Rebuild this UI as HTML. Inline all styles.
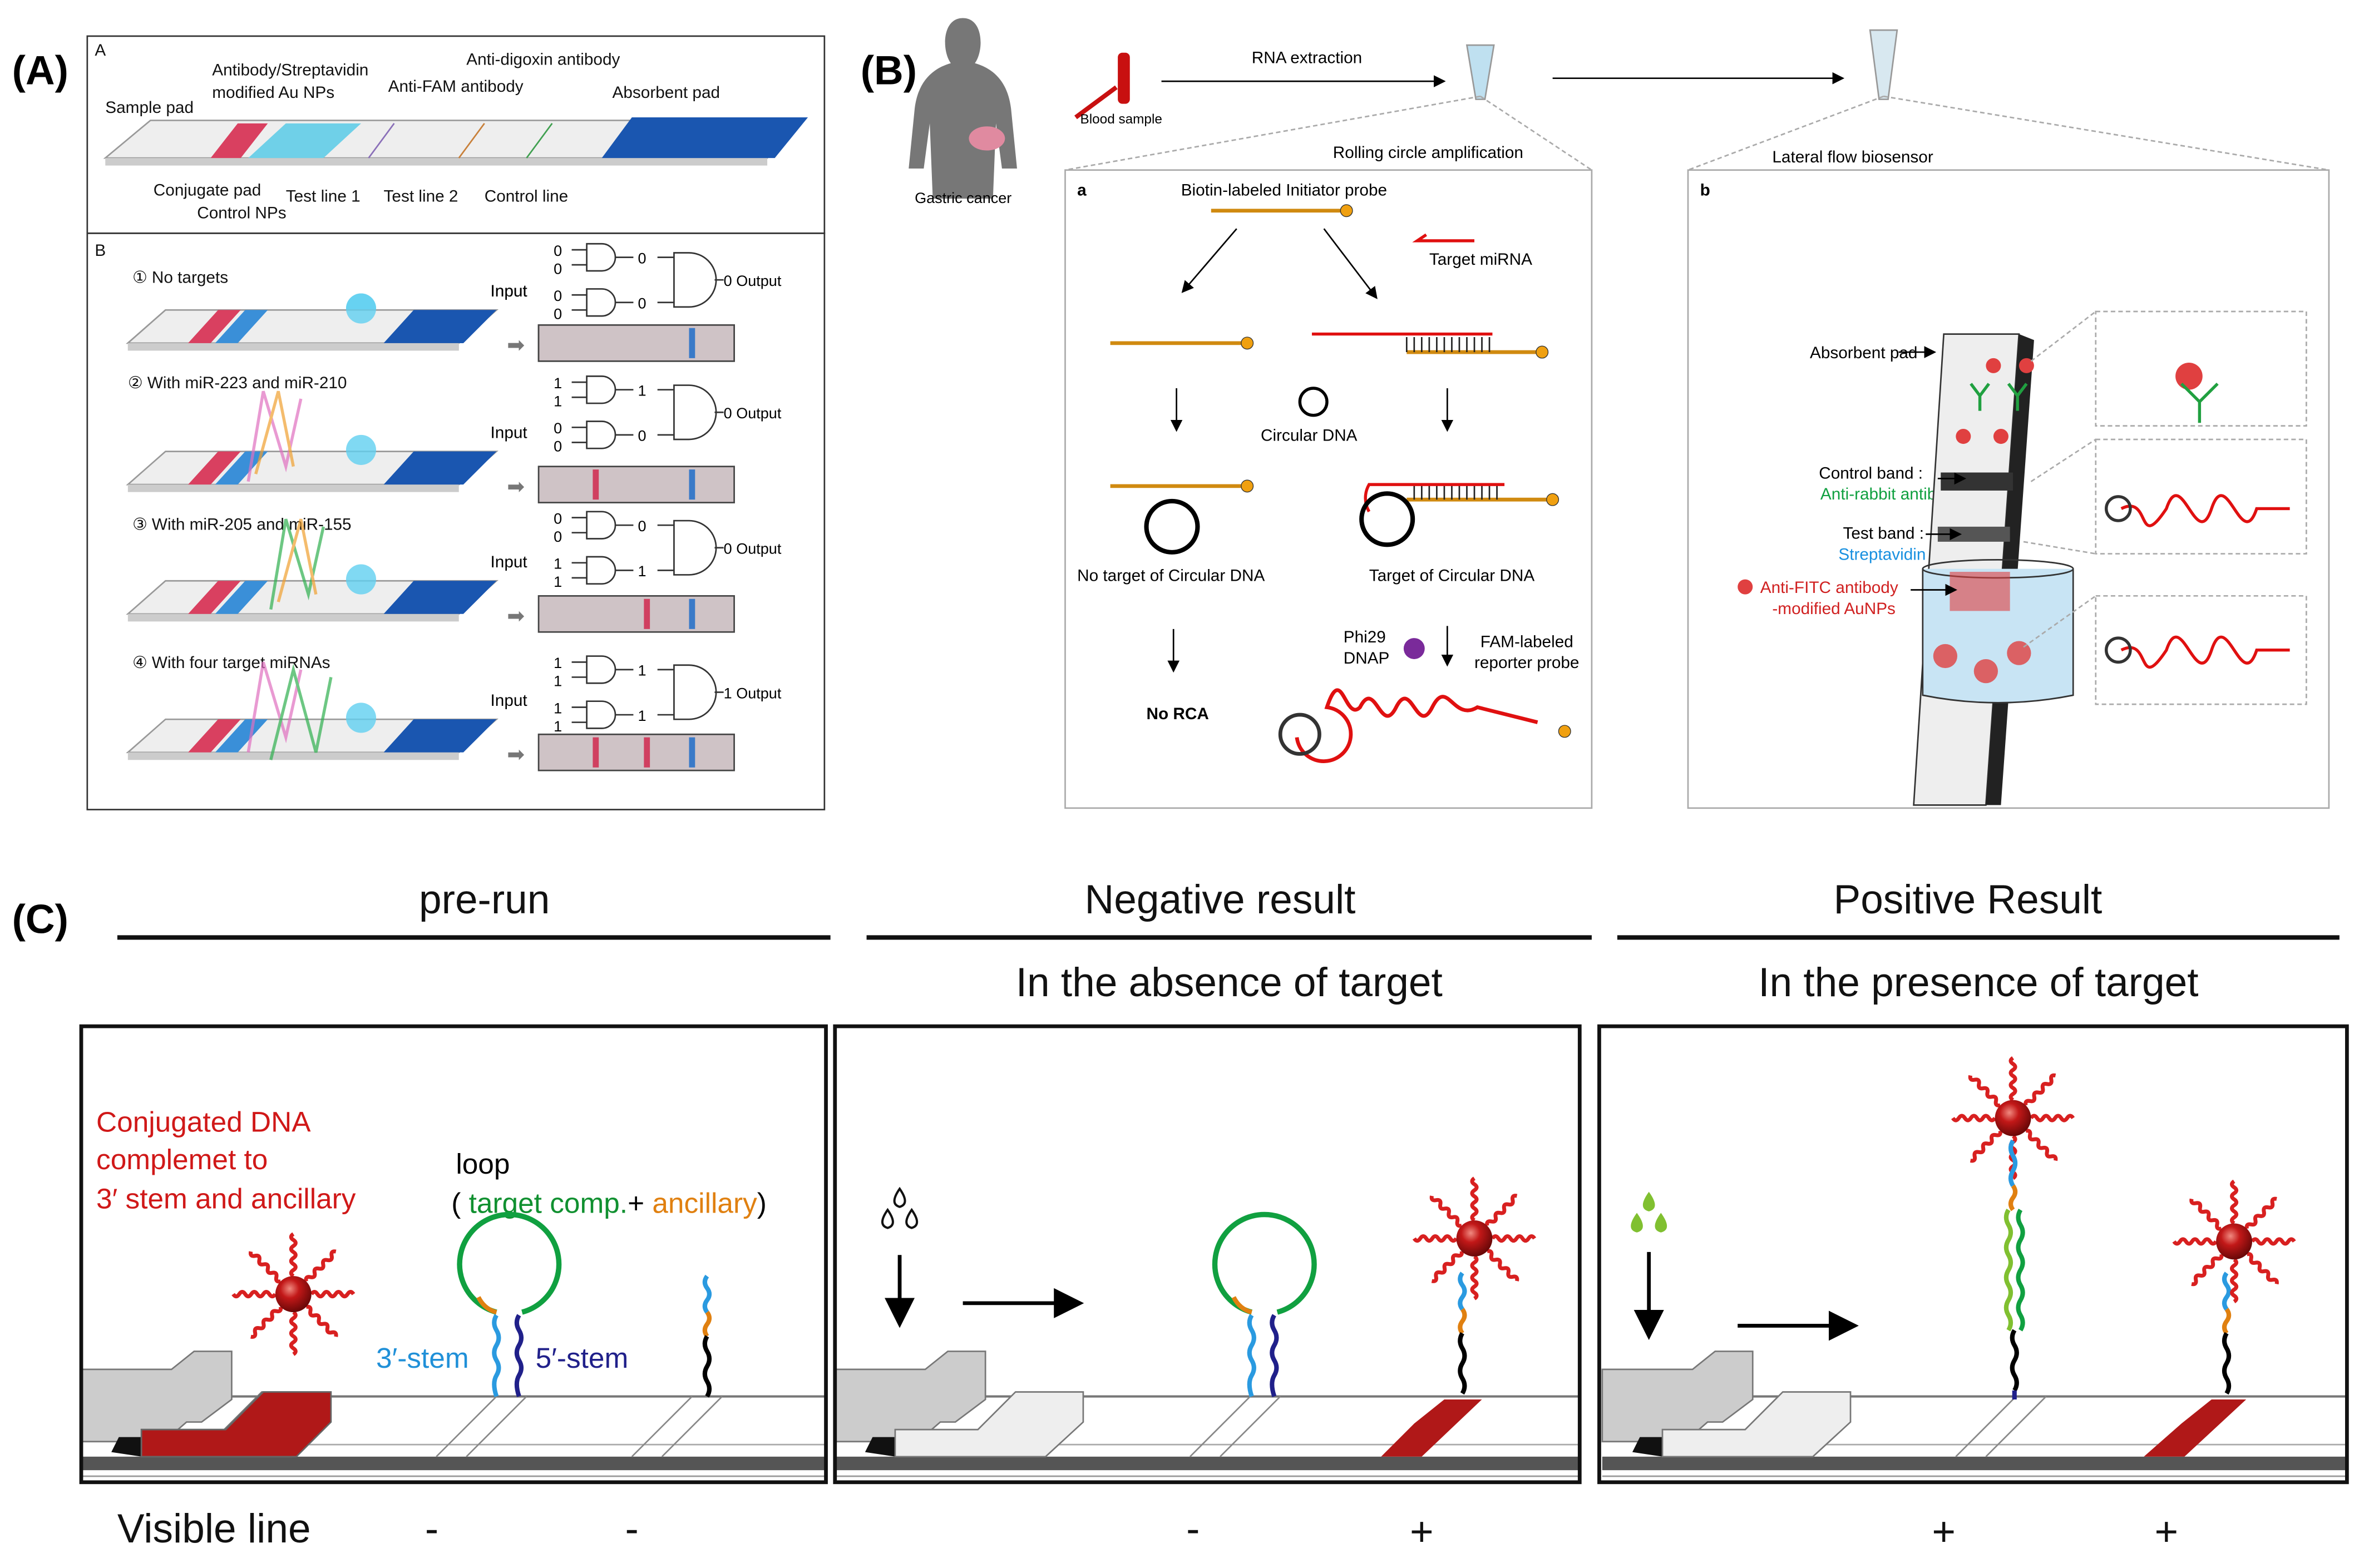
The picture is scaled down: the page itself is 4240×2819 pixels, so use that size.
<!DOCTYPE html>
<html><head><meta charset="utf-8"><style>
html,body{margin:0;padding:0;background:#fff}
svg{display:block}
text{font-family:"Liberation Sans",sans-serif}
</style></head><body>
<svg width="4240" height="2819" viewBox="0 0 1568 1042" preserveAspectRatio="none" xmlns="http://www.w3.org/2000/svg">
<defs>
<radialGradient id="au" cx="0.4" cy="0.35" r="0.65"><stop offset="0" stop-color="#f08a80"/><stop offset="0.4" stop-color="#c21818"/><stop offset="1" stop-color="#6a0808"/></radialGradient>
<marker id="ar" markerWidth="8" markerHeight="8" refX="7" refY="4" orient="auto"><path d="M0,0 L8,4 L0,8 z" fill="#000"/></marker>
<path id="wig" d="M0,0 q2,-3 4,0 t4,0 t4,0 t4,0 t4,0 t4,0 t4,0" fill="none" stroke-width="2.6"/>
<g id="np">
 <g stroke="#d82020">
  <use href="#wig" transform="rotate(0) translate(12,0)"/>
  <use href="#wig" transform="rotate(45) translate(12,0)"/>
  <use href="#wig" transform="rotate(90) translate(12,0)"/>
  <use href="#wig" transform="rotate(135) translate(12,0)"/>
  <use href="#wig" transform="rotate(180) translate(12,0)"/>
  <use href="#wig" transform="rotate(225) translate(12,0)"/>
  <use href="#wig" transform="rotate(270) translate(12,0)"/>
  <use href="#wig" transform="rotate(315) translate(12,0)"/>
 </g>
 <circle r="12" fill="url(#au)"/>
</g>
<g id="stripC">
 <rect x="0" y="928" width="495" height="40" fill="#fff"/>
 <line x1="100" y1="928" x2="495" y2="928" stroke="#777" stroke-width="1.5"/>
 <line x1="60" y1="960" x2="495" y2="960" stroke="#aaa" stroke-width="1"/>
 <rect x="0" y="968" width="495" height="9" fill="#555"/>
 <line x1="0" y1="981" x2="495" y2="981" stroke="#999"/>
 <polygon points="0,910 60,910 75,898 100,898 100,930 80,945 70,945 55,958 0,958" fill="#ccc" stroke="#777"/>
 <polygon points="20,965 25,955 40,955 40,968" fill="#111"/>
 <polygon points="40,968 40,950 95,950 120,925 165,925 165,945 140,968" fill="#eee" stroke="#777"/>
</g>
</defs>
<rect width="1568" height="1042" fill="#fff"/>

<text x="8" y="56" font-size="27" font-weight="bold">(A)</text>
<text x="572" y="56" font-size="27" font-weight="bold">(B)</text>
<text x="8" y="620" font-size="27" font-weight="bold">(C)</text>

<!-- Panel A -->
<rect x="58" y="24" width="490" height="131" fill="none" stroke="#333" stroke-width="1"/>
<rect x="58" y="155" width="490" height="383" fill="none" stroke="#333" stroke-width="1"/>
<g font-size="11" fill="#111">
<text x="63" y="37">A</text>
<text x="141" y="50">Antibody/Streptavidin</text>
<text x="141" y="65">modified Au NPs</text>
<text x="310" y="43">Anti-digoxin antibody</text>
<text x="258" y="61">Anti-FAM antibody</text>
<text x="407" y="65">Absorbent pad</text>
<text x="70" y="75">Sample pad</text>
<text x="102" y="130">Conjugate pad</text>
<text x="131" y="145">Control NPs</text>
<text x="190" y="134">Test line 1</text>
<text x="255" y="134">Test line 2</text>
<text x="322" y="134">Control line</text>
</g>
<polygon points="70,105 100,80 530,80 510,105" fill="#eee" stroke="#999"/>
<polygon points="70,105 510,105 510,110 70,110" fill="#ccc"/>
<polygon points="140,105 158,82 178,82 160,105" fill="#d94060"/>
<polygon points="165,105 190,82 240,82 215,105" fill="#6fd0e8"/>
<polygon points="400,105 420,78 537,78 515,105" fill="#1a56b0"/>
<line x1="245" y1="105" x2="262" y2="82" stroke="#8a6fb8"/>
<line x1="305" y1="105" x2="322" y2="82" stroke="#c8803a"/>
<line x1="350" y1="105" x2="367" y2="82" stroke="#40a050"/>

<g font-size="11" fill="#111">
<text x="63" y="170">B</text>
<text x="88" y="188">① No targets</text>
<text x="85" y="258">② With miR-223 and miR-210</text>
<text x="88" y="352">③ With miR-205 and miR-155</text>
<text x="88" y="444">④ With four target miRNAs</text>
</g>
<g id="rowA">
 <polygon points="85,228 110,206 330,206 305,228" fill="#eee" stroke="#999"/>
 <polygon points="85,228 305,228 305,233 85,233" fill="#ccc"/>
 <polygon points="125,228 145,206 160,206 140,228" fill="#d94060"/>
 <polygon points="143,228 163,206 178,206 158,228" fill="#3a8fd8"/>
 <polygon points="255,228 275,206 330,206 308,228" fill="#1a56b0"/>
 <circle cx="240" cy="205" r="10" fill="#60d0f0" opacity="0.8"/>
 <rect x="358" y="216" width="130" height="24" fill="#cfc3c6" stroke="#444"/>
 <text x="337" y="234" font-size="14" fill="#777">➡</text>
 <text x="326" y="197" font-size="11">Input</text>
</g>
<use href="#rowA" transform="translate(0,0)"/>
<use href="#rowA" transform="translate(0,94)"/>
<use href="#rowA" transform="translate(0,180)"/>
<use href="#rowA" transform="translate(0,272)"/>
<rect x="458" y="218" width="4" height="20" fill="#3a7ac8"/>
<rect x="458" y="312" width="4" height="20" fill="#3a7ac8"/><rect x="394" y="312" width="4" height="20" fill="#d04060"/>
<rect x="458" y="398" width="4" height="20" fill="#3a7ac8"/><rect x="428" y="398" width="4" height="20" fill="#d04060"/>
<rect x="458" y="490" width="4" height="20" fill="#3a7ac8"/><rect x="394" y="490" width="4" height="20" fill="#d04060"/><rect x="428" y="490" width="4" height="20" fill="#d04060"/>
<g fill="none" stroke-width="2" opacity="0.7">
 <path d="M165,320 l10,-60 l15,50 l10,-45" stroke="#e070c0"/><path d="M170,315 l15,-55 l10,50" stroke="#f0a030"/>
 <path d="M180,405 l10,-60 l15,50 l10,-45" stroke="#30b050"/><path d="M185,400 l15,-55 l10,50" stroke="#f0a030"/>
 <path d="M165,500 l10,-60 l15,50 l10,-45" stroke="#e070c0"/><path d="M180,505 l15,-60 l15,55 l10,-50" stroke="#30b050"/>
</g>
<g id="gates" fill="none" stroke="#333">
 <path d="M390,162 h10 a9,9 0 0 1 0,18 h-10 z M390,192 h10 a9,9 0 0 1 0,18 h-10 z M448,168 h10 a17,17 0 0 1 0,36 h-10 z"/>
 <path d="M380,166 h10 M380,176 h10 M380,196 h10 M380,206 h10 M409,171 h12 M409,201 h12 M437,171 h11 M437,201 h11 M475,186 h6"/>
</g>
<use href="#gates" transform="translate(0,88)"/>
<use href="#gates" transform="translate(0,178)"/>
<use href="#gates" transform="translate(0,274)"/>
<g font-size="10">
<text x="368" y="170">0</text><text x="368" y="182">0</text><text x="368" y="200">0</text><text x="368" y="212">0</text><text x="424" y="175">0</text><text x="424" y="205">0</text><text x="481" y="190">0  Output</text>
<text x="368" y="258">1</text><text x="368" y="270">1</text><text x="368" y="288">0</text><text x="368" y="300">0</text><text x="424" y="263">1</text><text x="424" y="293">0</text><text x="481" y="278">0  Output</text>
<text x="368" y="348">0</text><text x="368" y="360">0</text><text x="368" y="378">1</text><text x="368" y="390">1</text><text x="424" y="353">0</text><text x="424" y="383">1</text><text x="481" y="368">0  Output</text>
<text x="368" y="444">1</text><text x="368" y="456">1</text><text x="368" y="474">1</text><text x="368" y="486">1</text><text x="424" y="449">1</text><text x="424" y="479">1</text><text x="481" y="464">1  Output</text>
</g>

<!-- Panel B -->
<path d="M640,12 c-14,0 -14,22 -8,30 c-14,4 -22,14 -24,30 l-4,40 l10,0 l4,-30 l2,50 l40,0 l2,-50 l4,30 l10,0 l-4,-40 c-2,-16 -10,-26 -24,-30 c6,-8 6,-30 -8,-30 z" fill="#777"/>
<ellipse cx="656" cy="92" rx="12" ry="8" fill="#e08aa0"/>
<text x="608" y="135" font-size="10">Gastric cancer</text>
<rect x="743" y="35" width="8" height="34" rx="3" fill="#c81010"/>
<line x1="715" y1="78" x2="742" y2="58" stroke="#c81010" stroke-width="3"/>
<text x="718" y="82" font-size="9">Blood sample</text>
<line x1="772" y1="54" x2="960" y2="54" stroke="#000" marker-end="url(#ar)"/>
<text x="832" y="42" font-size="11">RNA extraction</text>
<path d="M975,30 h18 l-6,36 h-6 z" fill="#bfe0f0" stroke="#999"/>
<line x1="1032" y1="52" x2="1225" y2="52" stroke="#000" marker-end="url(#ar)"/>
<path d="M1243,20 h18 l-6,46 h-6 z" fill="#d8e8f0" stroke="#999"/>
<text x="886" y="105" font-size="11">Rolling circle amplification</text>
<text x="1178" y="108" font-size="11">Lateral flow biosensor</text>
<g stroke="#aaa" stroke-dasharray="3,2"><line x1="984" y1="64" x2="708" y2="113"/><line x1="984" y1="64" x2="1058" y2="113"/><line x1="1252" y1="64" x2="1122" y2="113"/><line x1="1252" y1="64" x2="1548" y2="113"/></g>
<rect x="708" y="113" width="350" height="424" fill="none" stroke="#aaa"/>
<rect x="1122" y="113" width="426" height="424" fill="none" stroke="#aaa"/>
<g font-size="11">
<text x="716" y="130" font-weight="bold">a</text>
<text x="785" y="130">Biotin-labeled  Initiator probe</text>
<text x="950" y="176">Target miRNA</text>
<text x="838" y="293">Circular DNA</text>
<text x="716" y="386">No target of Circular DNA</text>
<text x="910" y="386">Target of Circular DNA</text>
<text x="893" y="427">Phi29</text><text x="893" y="441">DNAP</text>
<text x="984" y="430">FAM-labeled</text><text x="980" y="444">reporter probe</text>
<text x="762" y="478" font-weight="bold">No RCA</text>
<text x="1130" y="130" font-weight="bold">b</text>
<text x="1203" y="238">Absorbent pad</text>
<text x="1209" y="318">Control band :</text>
<text x="1210" y="332" fill="#10a040">Anti-rabbit antibody</text>
<text x="1225" y="358">Test band :</text>
<text x="1222" y="372" fill="#1890e0">Streptavidin</text>
<text x="1170" y="394" fill="#d02020">Anti-FITC antibody</text>
<text x="1178" y="408" fill="#d02020">-modified AuNPs</text>
</g>
<g stroke="#d08a10" stroke-width="2.5" fill="none">
<line x1="805" y1="140" x2="892" y2="140"/><line x1="738" y1="228" x2="826" y2="228"/><line x1="738" y1="323" x2="826" y2="323"/>
<line x1="935" y1="234" x2="1022" y2="234"/><line x1="935" y1="332" x2="1030" y2="332"/>
</g>
<g stroke="#222" stroke-width="1"><path d="M935,234 v-10 M940,234 v-10 M945,234 v-10 M950,234 v-10 M955,234 v-10 M960,234 v-10 M965,234 v-10 M970,234 v-10 M975,234 v-10 M980,234 v-10 M985,234 v-10 M990,234 v-10"/>
<path d="M940,332 v-10 M945,332 v-10 M950,332 v-10 M955,332 v-10 M960,332 v-10 M965,332 v-10 M970,332 v-10 M975,332 v-10 M980,332 v-10 M985,332 v-10 M990,332 v-10 M995,332 v-10"/></g>
<g stroke="#e01010" stroke-width="2" fill="none"><path d="M980,160 h-38 l6,-4"/><path d="M872,222 h120"/><path d="M1000,322 h-90 a18,18 0 0 0 0,18"/></g>
<g stroke="#000" fill="none"><line x1="822" y1="152" x2="786" y2="194" marker-end="url(#ar)"/><line x1="880" y1="152" x2="915" y2="198" marker-end="url(#ar)"/>
<line x1="782" y1="258" x2="782" y2="286" marker-end="url(#ar)"/><line x1="962" y1="258" x2="962" y2="286" marker-end="url(#ar)"/>
<line x1="780" y1="418" x2="780" y2="446" marker-end="url(#ar)"/><line x1="962" y1="416" x2="962" y2="442" marker-end="url(#ar)"/>
<circle cx="873" cy="267" r="9" stroke-width="2"/><circle cx="779" cy="350" r="17" stroke-width="3"/><circle cx="922" cy="345" r="17" stroke-width="3"/></g>
<g fill="#f0a010" stroke="#333" stroke-width="0.5"><circle cx="895" cy="140" r="4"/><circle cx="829" cy="228" r="4"/><circle cx="829" cy="323" r="4"/><circle cx="1025" cy="234" r="4"/><circle cx="1032" cy="332" r="4"/><circle cx="1040" cy="486" r="4"/></g>
<circle cx="940" cy="431" r="7" fill="#7a2a9a"/>
<path d="M862,490 a18,18 0 1 0 20,-20 c10,-30 12,10 22,0 c10,-20 14,20 24,0 c10,-20 14,20 24,0 c10,-20 14,10 30,0 l40,10" fill="none" stroke="#e01010" stroke-width="2.5"/>
<circle cx="864" cy="488" r="13" fill="none" stroke="#333" stroke-width="2.5"/>
<!-- b strip -->
<polygon points="1292,222 1342,222 1320,535 1272,535" fill="#eee" stroke="#333"/>
<polygon points="1342,222 1352,226 1330,535 1320,535" fill="#222"/>
<rect x="1290" y="314" width="48" height="12" fill="#333"/>
<rect x="1288" y="350" width="48" height="10" fill="#555"/>
<path d="M1278,378 v84 q50,10 100,0 v-84" fill="#c8e4f4" stroke="#333"/>
<ellipse cx="1328" cy="378" rx="50" ry="6" fill="none" stroke="#333"/>
<rect x="1296" y="380" width="40" height="26" fill="#e04040" opacity="0.6"/>
<g fill="#e04040"><circle cx="1325" cy="243" r="5"/><circle cx="1347" cy="243" r="5"/><circle cx="1305" cy="290" r="5"/><circle cx="1330" cy="290" r="5"/><circle cx="1293" cy="436" r="8" opacity="0.8"/><circle cx="1320" cy="446" r="8" opacity="0.8"/><circle cx="1342" cy="434" r="8" opacity="0.8"/><circle cx="1160" cy="390" r="5"/><circle cx="1455" cy="250" r="9"/></g>
<g stroke="#20a040" stroke-width="2" fill="none"><path d="M1310,255 l6,8 l6,-8 M1316,263 v10 M1335,255 l6,8 l6,-8 M1341,263 v10 M1450,255 l12,12 l12,-12 M1462,267 v14"/></g>
<g stroke="#aaa" stroke-dasharray="3,2" fill="none"><rect x="1393" y="207" width="140" height="76"/><rect x="1393" y="292" width="140" height="76"/><rect x="1393" y="396" width="140" height="72"/>
<line x1="1350" y1="240" x2="1393" y2="207"/><line x1="1350" y1="320" x2="1393" y2="292"/><line x1="1345" y1="430" x2="1393" y2="396"/><line x1="1345" y1="360" x2="1393" y2="368"/></g>
<g stroke="#e01010" stroke-width="2" fill="none"><path d="M1410,338 c20,-10 10,30 30,0 c10,-30 20,30 30,0 c10,-30 20,30 30,0 l22,0"/><path d="M1410,432 c20,-10 10,30 30,0 c10,-30 20,30 30,0 c10,-30 20,30 30,0 l22,0"/></g>
<circle cx="1408" cy="338" r="8" fill="none" stroke="#333" stroke-width="2"/><circle cx="1408" cy="432" r="8" fill="none" stroke="#333" stroke-width="2"/>
<g stroke="#000" marker-end="url(#ar)"><line x1="1262" y1="234" x2="1286" y2="234"/><line x1="1288" y1="318" x2="1306" y2="318"/><line x1="1280" y1="355" x2="1303" y2="355"/><line x1="1270" y1="392" x2="1300" y2="392"/></g>

<!-- Panel C headers -->
<g font-size="27" text-anchor="middle" fill="#111">
<text x="322" y="607">pre-run</text>
<text x="811" y="607">Negative result</text>
<text x="1308" y="607">Positive Result</text>
<text x="817" y="662">In the absence of target</text>
<text x="1315" y="662">In the presence of target</text>
</g>
<g stroke="#111" stroke-width="3"><line x1="78" y1="623" x2="552" y2="623"/><line x1="576" y1="623" x2="1058" y2="623"/><line x1="1075" y1="623" x2="1555" y2="623"/></g>
<use href="#stripC" transform="translate(54,0)"/>
<use href="#stripC" transform="translate(555,0)"/>
<use href="#stripC" transform="translate(1065,0)"/>
<g fill="none" stroke="#111" stroke-width="2.5"><rect x="54" y="682" width="495" height="303"/><rect x="555" y="682" width="495" height="303"/><rect x="1063" y="682" width="497" height="303"/></g>
<!-- prerun red conjugate pad -->
<polygon points="94,968 94,950 150,950 175,925 220,925 220,945 197,968" fill="#b01818" stroke="#666"/>
<polygon points="94,950 150,892 200,892 150,950" fill="#b01818" stroke="#666" opacity="0"/>
<g stroke="#888" fill="none"><path d="M290,968 l40,-40 M310,968 l40,-40 M420,968 l40,-40 M440,968 l40,-40 M791,968 l40,-40 M811,968 l40,-40 M1300,968 l40,-40 M1320,968 l40,-40"/></g>
<polygon points="918,968 940,946 960,930 985,930 945,968" fill="#b01818"/>
<polygon points="1425,968 1450,946 1470,930 1493,930 1452,968" fill="#b01818"/>
<g font-size="19" fill="#d01818"><text x="64" y="752">Conjugated DNA</text><text x="64" y="777">complemet to</text><text x="64" y="803">3′ stem and ancillary</text></g>
<text x="303" y="780" font-size="19">loop</text>
<text x="300" y="806" font-size="19">( <tspan fill="#109030">target comp.</tspan>+ <tspan fill="#e08010">ancillary</tspan>)</text>
<text x="250" y="909" font-size="19" fill="#2090d8">3′-stem</text>
<text x="356" y="909" font-size="19" fill="#20208a">5′-stem</text>
<use href="#np" transform="translate(195,860)"/>
<g id="hp" fill="none" stroke-width="3">
 <path d="M330,872 A33,33 0 1 1 347,872" stroke="#10a040" stroke-width="3.5"/>
 <path d="M318,862 q4,8 12,10" stroke="#e08010"/>
 <path d="M330,874 q-3,5 0,10 q3,5 0,10 q-3,5 0,10 q3,5 0,10 q-3,5 0,14" stroke="#2a9ae0"/>
 <path d="M345,874 q-3,5 0,10 q3,5 0,10 q-3,5 0,10 q3,5 0,10 q-3,5 0,14" stroke="#20208a"/>
</g>
<use href="#hp" transform="translate(502,0)"/>
<g id="ps" fill="none" stroke-width="3">
 <path d="M470,848 q-3,4 0,8 q3,4 0,8 q-3,4 0,8" stroke="#2a9ae0"/>
 <path d="M470,872 q3,4 0,8 q-3,4 0,8" stroke="#e08010"/>
 <path d="M470,888 q-3,5 0,10 q3,5 0,10 q-3,5 0,10 q3,5 0,10" stroke="#000"/>
</g>
<use href="#ps" transform="translate(502,-2)"/>
<use href="#np" transform="translate(980,823)"/>
<use href="#ps" transform="translate(1010,-2)"/>
<use href="#np" transform="translate(1485,825)"/>
<use href="#np" transform="translate(1338,743)"/>
<g fill="none" stroke-width="3">
 <path d="M1338,758 q-3,5 0,10 q3,5 0,10 q-3,5 0,10" stroke="#2a9ae0"/>
 <path d="M1338,788 q3,4 0,8 q-3,4 0,8" stroke="#e08010"/>
 <path d="M1335,804 q-3,5 0,10 q3,5 0,10 q-3,5 0,10 q3,5 0,10 q-3,5 0,10 q3,5 0,10 q-3,5 0,10 q3,5 0,10" stroke="#80c030"/>
 <path d="M1343,804 q-3,5 0,10 q3,5 0,10 q-3,5 0,10 q3,5 0,10 q-3,5 0,10 q3,5 0,10 q-3,5 0,10 q3,5 0,10" stroke="#10a040"/>
 <path d="M1339,884 q-3,5 0,10 q3,5 0,10 q-3,5 0,10 q3,5 0,10" stroke="#000"/>
 <path d="M1339,924 v6" stroke="#20208a"/>
</g>
<g fill="none" stroke="#111" stroke-width="1.5"><path d="M598,790 q-7,10 0,12 q7,-2 0,-12z M590,804 q-7,10 0,12 q7,-2 0,-12z M606,804 q-7,10 0,12 q7,-2 0,-12z"/></g>
<g fill="#80c030"><path d="M1096,792 q-8,11 0,13 q8,-2 0,-13z M1088,806 q-8,11 0,13 q8,-2 0,-13z M1104,806 q-8,11 0,13 q8,-2 0,-13z"/></g>
<g stroke="#000" stroke-width="2.5" marker-end="url(#ar)"><line x1="598" y1="834" x2="598" y2="880"/><line x1="640" y1="866" x2="718" y2="866"/><line x1="1096" y1="832" x2="1096" y2="888"/><line x1="1155" y1="881" x2="1233" y2="881"/></g>
<g font-size="27" fill="#111"><text x="78" y="1025">Visible  line</text>
<text x="287" y="1025" text-anchor="middle">-</text><text x="420" y="1025" text-anchor="middle">-</text><text x="793" y="1025" text-anchor="middle">-</text>
<text x="945" y="1027" text-anchor="middle">+</text><text x="1292" y="1027" text-anchor="middle">+</text><text x="1440" y="1027" text-anchor="middle">+</text></g>
</svg>
</body></html>
